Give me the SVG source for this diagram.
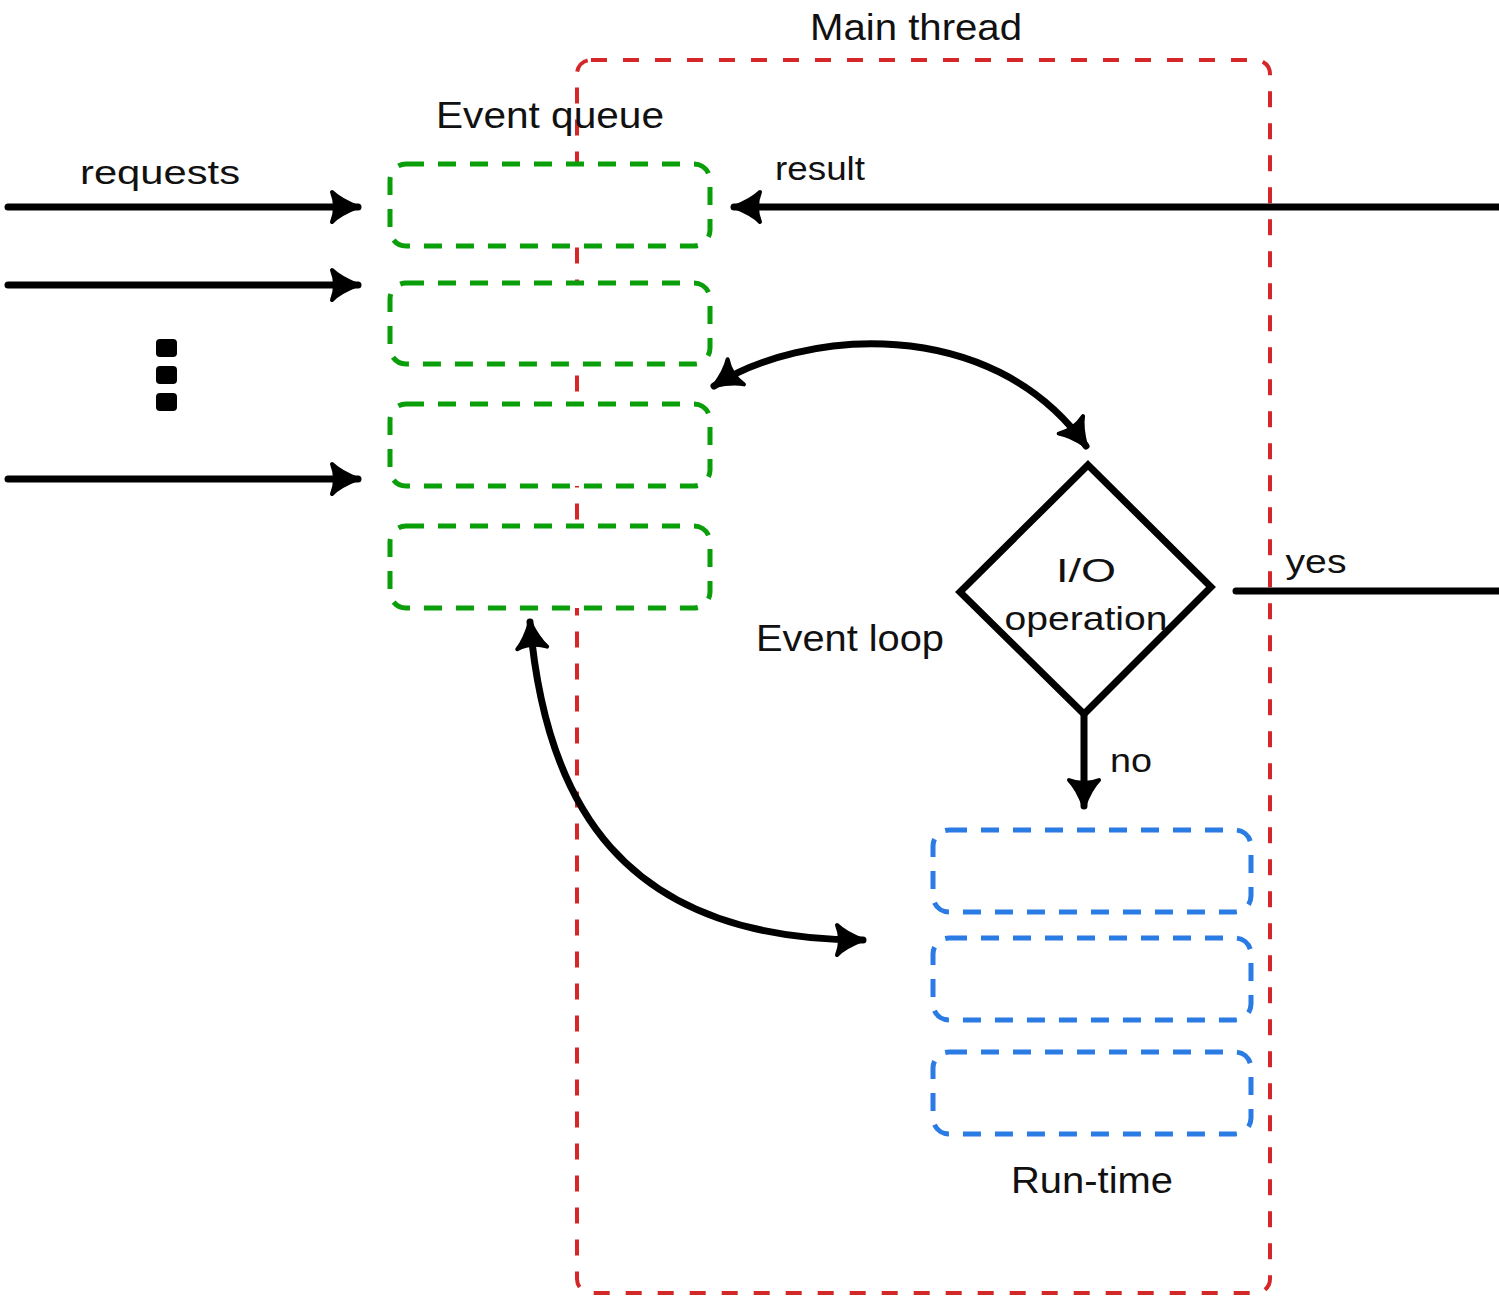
<svg xmlns="http://www.w3.org/2000/svg" width="1499" height="1297" viewBox="0 0 1499 1297">
<style>
.t{font-family:"Liberation Sans","DejaVu Sans",sans-serif;fill:#111;}
.red{fill:none;stroke:#d62728;stroke-width:4;stroke-dasharray:16 16;}
.grn{fill:#fff;stroke:#0a9e0a;stroke-width:5;stroke-dasharray:18 14;}
.blu{fill:#fff;stroke:#2a7be4;stroke-width:5;stroke-dasharray:18 14;}
.ln{fill:none;stroke:#000;stroke-width:7;stroke-linecap:round;}
</style>
<defs>
<marker id="ah" markerUnits="userSpaceOnUse" markerWidth="40" markerHeight="40" refX="32" refY="20" orient="auto-start-reverse" viewBox="0 0 40 40">
<path d="M6,5 Q14,13 32,20 Q14,27 6,35 Q12,20 6,5 Z" fill="#000" stroke="#000" stroke-width="4" stroke-linejoin="round"/>
</marker>
</defs>
<g id="main-thread">
<rect class="red" x="577" y="60" width="693" height="1233" rx="14"/>
<text class="t" x="916" y="40" font-size="36" text-anchor="middle" textLength="212" lengthAdjust="spacingAndGlyphs">Main thread</text>
</g>
<g id="event-queue">
<text class="t" x="550" y="128" font-size="36" text-anchor="middle" textLength="228" lengthAdjust="spacingAndGlyphs">Event queue</text>
<rect class="grn" x="390" y="164" width="320" height="82" rx="16"/>
<rect class="grn" x="390" y="283" width="320" height="81" rx="16"/>
<rect class="grn" x="390" y="404" width="320" height="82" rx="16"/>
<rect class="grn" x="390" y="526" width="320" height="82" rx="16"/>
</g>
<g id="dots">
<rect x="156" y="339" width="21" height="18" rx="4" fill="#000"/>
<rect x="156" y="366" width="21" height="18" rx="4" fill="#000"/>
<rect x="156" y="393" width="21" height="18" rx="4" fill="#000"/>
</g>
<g id="io-operation">
<path d="M1088,465 L1211,587 L1084,714 L960,592 Z" fill="#fff" stroke="#000" stroke-width="7" stroke-linejoin="miter"/>
<text class="t" x="1086" y="582" font-size="34" text-anchor="middle" textLength="60" lengthAdjust="spacingAndGlyphs">I/O</text>
<text class="t" x="1086" y="630" font-size="34" text-anchor="middle" textLength="163" lengthAdjust="spacingAndGlyphs">operation</text>
</g>
<g id="run-time">
<rect class="blu" x="933" y="830" width="318" height="82" rx="16"/>
<rect class="blu" x="933" y="938" width="318" height="82" rx="16"/>
<rect class="blu" x="933" y="1052" width="318" height="82" rx="16"/>
<text class="t" x="1092" y="1193" font-size="36" text-anchor="middle" textLength="162" lengthAdjust="spacingAndGlyphs">Run-time</text>
</g>
<g id="labels">
<text class="t" x="160" y="184" font-size="34" text-anchor="middle" textLength="160" lengthAdjust="spacingAndGlyphs">requests</text>
<text class="t" x="820" y="180" font-size="34" text-anchor="middle" textLength="90" lengthAdjust="spacingAndGlyphs">result</text>
<text class="t" x="850" y="651" font-size="36" text-anchor="middle" textLength="188" lengthAdjust="spacingAndGlyphs">Event loop</text>
<text class="t" x="1316" y="573" font-size="34" text-anchor="middle" textLength="61" lengthAdjust="spacingAndGlyphs">yes</text>
<text class="t" x="1131" y="772" font-size="34" text-anchor="middle" textLength="42" lengthAdjust="spacingAndGlyphs">no</text>
</g>
<g id="connectors">
<line class="ln" x1="8" y1="207" x2="358" y2="207" marker-end="url(#ah)"/>
<line class="ln" x1="8" y1="285" x2="358" y2="285" marker-end="url(#ah)"/>
<line class="ln" x1="8" y1="479" x2="358" y2="479" marker-end="url(#ah)"/>
<line class="ln" x1="1499" y1="207" x2="734" y2="207" marker-end="url(#ah)"/>
<line class="ln" x1="1236" y1="591" x2="1499" y2="591"/>
<line class="ln" x1="1084" y1="714" x2="1084" y2="806" marker-end="url(#ah)"/>
<path class="ln" d="M714,386 C800,330 990,312 1086,446" marker-start="url(#ah)" marker-end="url(#ah)"/>
<path class="ln" d="M530,622 C545,800 620,940 863,940" marker-start="url(#ah)" marker-end="url(#ah)"/>
</g>
</svg>
